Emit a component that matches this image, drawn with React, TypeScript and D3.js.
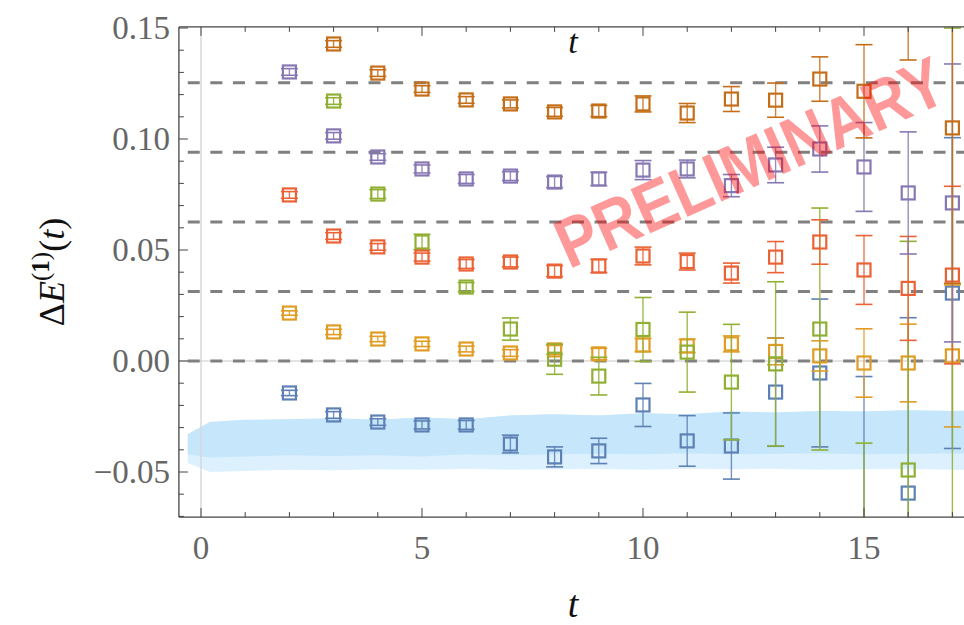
import React from 'react';
import * as d3 from 'd3';

const W = 964;
const H = 625;

// ---------- data ----------
const tFrom2 = [2, 3, 4, 5, 6, 7, 8, 9, 10, 11, 12, 13, 14, 15, 16, 17];
const tFrom3 = [3, 4, 5, 6, 7, 8, 9, 10, 11, 12, 13, 14, 15, 16, 17];

const blueVal = [-0.0144, -0.0243, -0.0275, -0.0288, -0.0288, -0.0374, -0.0432, -0.0405, -0.0198, -0.036, -0.0383, -0.014, -0.0054, -0.085, -0.0595, 0.0306];
const blueErr = [0.0012, 0.0015, 0.0015, 0.0018, 0.002, 0.004, 0.0045, 0.0057, 0.0097, 0.0114, 0.0149, 0.0244, 0.0333, 0.078, 0.079, 0.07];

const orangeVal = [0.0216, 0.0131, 0.0099, 0.0077, 0.0054, 0.0036, 0.005, 0.0032, 0.0072, 0.0068, 0.0077, 0.0043, 0.0023, -0.0009, -0.0009, 0.0023];
const orangeErr = [0.001, 0.0012, 0.0012, 0.0012, 0.0013, 0.0015, 0.002, 0.0025, 0.003, 0.003, 0.0036, 0.006, 0.0068, 0.0154, 0.0175, 0.032];

const greenVal = [0.1171, 0.0752, 0.0536, 0.0333, 0.0144, 0.0008, -0.0068, 0.0142, 0.004, -0.0095, -0.0013, 0.0144, -0.095, -0.0491, -0.1];
const greenErr = [0.0015, 0.002, 0.0035, 0.002, 0.005, 0.0068, 0.0085, 0.0144, 0.018, 0.026, 0.037, 0.0545, 0.058, 0.103, 0.25];

const redVal = [0.0748, 0.0563, 0.0514, 0.0468, 0.0437, 0.0446, 0.0405, 0.0428, 0.0473, 0.0448, 0.0396, 0.0468, 0.0536, 0.041, 0.0327, 0.0387];
const redErr = [0.0015, 0.0015, 0.0015, 0.0018, 0.002, 0.0022, 0.0025, 0.003, 0.004, 0.0038, 0.0045, 0.007, 0.01, 0.0155, 0.0234, 0.04];

const purpleVal = [0.1302, 0.1014, 0.0919, 0.0865, 0.082, 0.0833, 0.0806, 0.082, 0.086, 0.0865, 0.079, 0.0883, 0.0955, 0.0874, 0.0757, 0.0712];
const purpleErr = [0.0015, 0.0015, 0.0015, 0.0018, 0.002, 0.002, 0.0025, 0.003, 0.0043, 0.004, 0.005, 0.008, 0.0104, 0.02, 0.0275, 0.0626];

const brownVal = [0.1428, 0.1297, 0.1225, 0.1176, 0.1158, 0.1122, 0.1126, 0.1158, 0.1117, 0.118, 0.1175, 0.127, 0.1215, 0.158, 0.105];
const brownErr = [0.0015, 0.0015, 0.0015, 0.0015, 0.0018, 0.002, 0.0025, 0.0036, 0.0043, 0.0056, 0.0077, 0.01, 0.021, 0.0224, 0.07];

const levels = [0, 0.03133, 0.06266, 0.094, 0.12533];

const bandTs = [-0.3, 0.2, 1, 2, 3, 4, 5, 6, 7, 8, 9, 10, 11, 12, 13, 14, 15, 16, 17, 18];
const bandTop = [-0.033, -0.0275, -0.0265, -0.0262, -0.0258, -0.0265, -0.0255, -0.0262, -0.0245, -0.024, -0.0245, -0.0235, -0.024, -0.0228, -0.0232, -0.0225, -0.0228, -0.0222, -0.0225, -0.0222];
const bandCore = [-0.042, -0.0435, -0.043, -0.0425, -0.0428, -0.0425, -0.043, -0.042, -0.0425, -0.042, -0.0418, -0.042, -0.0415, -0.042, -0.0418, -0.0415, -0.042, -0.0418, -0.0415, -0.042];
const bandFringe = [-0.046, -0.05, -0.0495, -0.049, -0.0492, -0.0488, -0.049, -0.0485, -0.049, -0.0488, -0.0485, -0.049, -0.0485, -0.0488, -0.0485, -0.049, -0.0488, -0.0485, -0.049, -0.0488];

const xTickLabels = [0, 5, 10, 15];
const yTickLabels = [-0.05, 0, 0.05, 0.1, 0.15];

const series = [
  { name: 'blue', color: '#5e81b5', ts: tFrom2, vals: blueVal, errs: blueErr },
  { name: 'orange', color: '#e19c24', ts: tFrom2, vals: orangeVal, errs: orangeErr },
  { name: 'green', color: '#8fb032', ts: tFrom3, vals: greenVal, errs: greenErr },
  { name: 'red', color: '#eb6235', ts: tFrom2, vals: redVal, errs: redErr },
  { name: 'purple', color: '#8778b3', ts: tFrom2, vals: purpleVal, errs: purpleErr },
  { name: 'brown', color: '#c56e1a', ts: tFrom3, vals: brownVal, errs: brownErr },
];

// ---------- layout ----------
const x = d3.scaleLinear().domain([0, 15]).range([201, 864]);
const y = d3.scaleLinear().domain([0, 0.15]).range([361, 28]);
const xMin = -0.5;
const xMax = 17.8;
const yMin = -0.0703;
const yMax = 0.1505;
const L = x(xMin);
const R = x(xMax);
const T = y(yMax);
const B = y(yMin);

const tickFont = "'Liberation Serif', 'Times New Roman', serif";
const fmt = (v: number) => (v < 0 ? '\u2212' : '') + Math.abs(v).toFixed(2);

export default function App() {
  const xTicks = d3.range(0, 18, 1);
  const yTicks = d3.range(-7, 16, 1).map((k) => k / 100);

  const areaOuter = d3
    .area<number>()
    .x((_, i) => x(bandTs[i]))
    .y0((_, i) => y(bandFringe[i]))
    .y1((_, i) => y(bandTop[i]));
  const areaCore = d3
    .area<number>()
    .x((_, i) => x(bandTs[i]))
    .y0((_, i) => y(bandCore[i]))
    .y1((_, i) => y(bandTop[i]));

  const sq = 13;
  const cap = 8.5;

  return (
    <svg width={W} height={H} style={{ position: 'absolute', left: 0, top: 0, background: '#fff' }}>
      <defs>
        <clipPath id="plotclip">
          <rect x={L} y={T} width={R - L} height={B - T} />
        </clipPath>
      </defs>
      <g clipPath="url(#plotclip)">
        {/* band */}
        <path d={areaOuter(bandTs) || ''} fill="#c5e6fb" opacity={0.6} />
        <path d={areaCore(bandTs) || ''} fill="#c5e6fb" />
        {/* origin lines */}
        <line x1={x(0)} x2={x(0)} y1={T} y2={B} stroke="#d9d9d9" strokeWidth={1.5} />
        <line x1={L} x2={R} y1={y(0)} y2={y(0)} stroke="#c8c8c8" strokeWidth={1.2} />
        {/* dashed levels */}
        {levels.map((v, i) => (
          <line
            key={i}
            x1={x(-0.3)}
            x2={R}
            y1={y(v)}
            y2={y(v)}
            stroke="#808080"
            strokeWidth={3}
            strokeDasharray="12,10.6"
          />
        ))}
        {/* series */}
        {series.map((s) => (
          <g key={s.name}>
            {s.ts.map((t, i) => {
              const cx = x(t);
              const cy = y(s.vals[i]);
              const y1 = y(s.vals[i] + s.errs[i]);
              const y2 = y(s.vals[i] - s.errs[i]);
              return (
                <g key={t}>
                  <line x1={cx} x2={cx} y1={y1} y2={y2} stroke={s.color} strokeWidth={1.4} opacity={0.85} />
                  <line x1={cx - cap} x2={cx + cap} y1={y1} y2={y1} stroke={s.color} strokeWidth={1.6} />
                  <line x1={cx - cap} x2={cx + cap} y1={y2} y2={y2} stroke={s.color} strokeWidth={1.6} />
                  <rect x={cx - sq / 2} y={cy - sq / 2} width={sq} height={sq} fill="none" stroke={s.color} strokeWidth={2.2} />
                </g>
              );
            })}
          </g>
        ))}
      </g>

      {/* frame */}
      <line x1={L} x2={L} y1={T} y2={B} stroke="#444" strokeWidth={1.3} />
      <line x1={L} x2={R} y1={T} y2={T} stroke="#444" strokeWidth={1.3} />
      <line x1={L} x2={R} y1={B} y2={B} stroke="#444" strokeWidth={1.3} />

      {/* x ticks */}
      {xTicks.map((t) => {
        const major = t % 5 === 0;
        const len = major ? 9 : 5;
        return (
          <g key={t}>
            <line x1={x(t)} x2={x(t)} y1={B} y2={B - len} stroke="#444" strokeWidth={1} />
            <line x1={x(t)} x2={x(t)} y1={T} y2={T + len} stroke="#444" strokeWidth={1} />
          </g>
        );
      })}
      {/* y ticks */}
      {yTicks.map((v, i) => {
        const major = Math.round(v * 100) % 5 === 0;
        const len = major ? 9 : 5;
        return <line key={i} x1={L} x2={L + len} y1={y(v)} y2={y(v)} stroke="#444" strokeWidth={1} />;
      })}

      {/* tick labels */}
      {xTickLabels.map((t) => (
        <text key={t} x={x(t)} y={559} textAnchor="middle" fontSize={33} fontFamily={tickFont} fill="#666">
          {t}
        </text>
      ))}
      {yTickLabels.map((v) => (
        <text key={v} x={170} y={y(v)} dy="0.33em" textAnchor="end" fontSize={33} fontFamily={tickFont} fill="#666">
          {fmt(v)}
        </text>
      ))}

      {/* axis titles */}
      <text x={573} y={617} textAnchor="middle" fontSize={38} fontStyle="italic" fontFamily={tickFont} fill="#111">
        t
      </text>
      <text x={573} y={53} textAnchor="middle" fontSize={34} fontStyle="italic" fontFamily={tickFont} fill="#111">
        t
      </text>
      <text transform="translate(64,272) rotate(-90)" textAnchor="middle" fontSize={36} fontFamily={tickFont} fill="#111">
        <tspan>Δ</tspan>
        <tspan fontStyle="italic">E</tspan>
        <tspan dy={-15} fontSize={25}>(</tspan>
        <tspan fontSize={25} fontWeight="bold">1</tspan>
        <tspan fontSize={25}>)</tspan>
        <tspan dy={15}>(</tspan>
        <tspan fontStyle="italic">t</tspan>
        <tspan>)</tspan>
      </text>

      {/* watermark */}
      <text
        transform="translate(750,162) rotate(-24) scale(1,1.15)"
        textAnchor="middle"
        dominantBaseline="central"
        fontSize={61}
        fontWeight="bold"
        fontFamily="'Liberation Sans', Arial, sans-serif"
        fill="#ff0000"
        opacity={0.4}
      >
        PRELIMINARY
      </text>
    </svg>
  );
}
